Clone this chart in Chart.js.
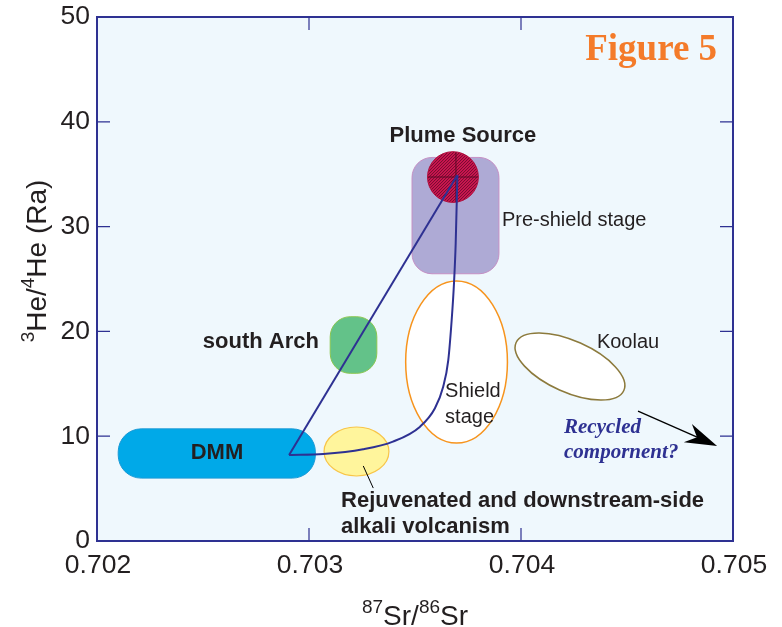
<!DOCTYPE html>
<html>
<head>
<meta charset="utf-8">
<script src="https://cdn.jsdelivr.net/npm/chart.js@4"></script>
<style>
  body { margin: 0; background: #fff; }
  #wrap { width: 782px; height: 627px; }
</style>
</head>
<body>
<div id="wrap"><canvas id="fig5"></canvas></div>
<script>
// Axis ticks
const xTicks = [0.702, 0.703, 0.704, 0.705];
const yTicks = [0, 10, 20, 30, 40, 50];

// Mixing curve DMM -> plume
const curveSr = [0.702906, 0.703067, 0.703255, 0.703396, 0.703524, 0.703594, 0.703633, 0.703657, 0.703673, 0.703684, 0.703692, 0.703700];
const curveHe = [8.21, 8.30, 8.75, 9.48, 10.91, 12.66, 14.72, 17.27, 21.09, 24.62, 28.44, 34.92];

// Straight mixing line DMM -> plume
const lineSr = [0.702906, 0.703700];
const lineHe = [8.21, 34.92];

// Fields: boxes [srMin, srMax, heMin, heMax]
const dmmBox = [0.7021, 0.70303, 6.0, 10.7];
const southArchBox = [0.7031, 0.70332, 16.0, 21.4];
const preShieldBox = [0.703486, 0.703896, 25.5, 36.6];

// Fields: ellipses [srCenter, heCenter, srRadius, heRadius]
const plumeEllipse = [0.703679, 34.73, 0.00012, 2.42];
const shieldEllipse = [0.703696, 17.08, 0.00024, 7.73];
const rejuvEllipse = [0.703224, 8.54, 0.000153, 2.34];

// Koolau: long axis ends [sr1, he1, sr2, he2] and half width in He units
const koolauAxis = [0.703977, 18.94, 0.704485, 14.36];
const koolauHalf = 2.45;

// Arrow and leader line [sr1, he1, sr2, he2]
const recycledArrow = [0.704552, 12.4, 0.704925, 9.06];
const rejuvLeader = [0.703256, 7.16, 0.703303, 5.05];

// Labels
const labelText = ["Plume Source", "Pre-shield stage", "south Arch", "Koolau", "Shield", "stage", "DMM",
  "Recycled", "compornent?", "Rejuvenated and downstream-side", "alkali volcanism", "Figure 5"];
const labelSr = [0.703726, 0.70391, 0.703047, 0.704358, 0.703642, 0.703642, 0.702566,
  0.704203, 0.704203, 0.703151, 0.703151, 0.704925];
const labelHe = [38.65, 30.63, 19.04, 18.99, 14.31, 11.83, 8.40, 10.78, 8.40, 3.82, 1.34, 46.85];

const NAVY = "#2e3192";
const INK = "#231f20";
const SANS = '"Liberation Sans", Arial, sans-serif';
const SERIF = '"Liberation Serif", "Times New Roman", serif';

const labelStyle = [
  { font: "bold 22px " + SANS, color: INK, align: "center" },
  { font: "20px " + SANS, color: INK, align: "left" },
  { font: "bold 22px " + SANS, color: INK, align: "right" },
  { font: "20px " + SANS, color: INK, align: "left" },
  { font: "20px " + SANS, color: INK, align: "left" },
  { font: "20px " + SANS, color: INK, align: "left" },
  { font: "bold 22px " + SANS, color: INK, align: "center" },
  { font: "italic bold 21px " + SERIF, color: NAVY, align: "left" },
  { font: "italic bold 21px " + SERIF, color: NAVY, align: "left" },
  { font: "bold 22px " + SANS, color: INK, align: "left" },
  { font: "bold 22px " + SANS, color: INK, align: "left" },
  { font: "bold 37px " + SERIF, color: "#f47b2a", align: "right" }
];

function roundBox(ctx, x0, y0, x1, y1, r) {
  ctx.beginPath();
  ctx.moveTo(x0 + r, y0);
  ctx.lineTo(x1 - r, y0);
  ctx.arcTo(x1, y0, x1, y0 + r, r);
  ctx.lineTo(x1, y1 - r);
  ctx.arcTo(x1, y1, x1 - r, y1, r);
  ctx.lineTo(x0 + r, y1);
  ctx.arcTo(x0, y1, x0, y1 - r, r);
  ctx.lineTo(x0, y0 + r);
  ctx.arcTo(x0, y0, x0 + r, y0, r);
  ctx.closePath();
}

const fieldsPlugin = {
  id: "fields",
  beforeDraw(chart) {
    const { ctx, chartArea: a } = chart;
    ctx.save();
    ctx.fillStyle = "#eff8fd";
    ctx.fillRect(a.left, a.top, a.right - a.left, a.bottom - a.top);
    ctx.restore();
  },
  beforeDatasetsDraw(chart) {
    const ctx = chart.ctx;
    const sx = chart.scales.x, sy = chart.scales.y;
    const px = v => sx.getPixelForValue(v);
    const py = v => sy.getPixelForValue(v);

    const box = (b, r, fill, stroke) => {
      roundBox(ctx, px(b[0]), py(b[3]), px(b[1]), py(b[2]), r);
      ctx.fillStyle = fill; ctx.fill();
      ctx.strokeStyle = stroke; ctx.lineWidth = 1; ctx.stroke();
    };
    const ell = (e, fill, stroke, lw) => {
      ctx.beginPath();
      ctx.ellipse(px(e[0]), py(e[1]), Math.abs(px(e[0] + e[2]) - px(e[0])),
        Math.abs(py(e[1] + e[3]) - py(e[1])), 0, 0, Math.PI * 2);
      ctx.fillStyle = fill; ctx.fill();
      ctx.strokeStyle = stroke; ctx.lineWidth = lw; ctx.stroke();
    };

    ctx.save();
    box(dmmBox, 23, "#00a9e8", "#1a9ad6");
    box(southArchBox, 20, "#63c289", "#8cc751");
    box(preShieldBox, 20, "#aeaad5", "#c58fc4");
    ell(rejuvEllipse, "#fff59c", "#f8c548", 1.2);
    ell(shieldEllipse, "#ffffff", "#f7941d", 1.5);

    // Koolau tilted ellipse
    const kx1 = px(koolauAxis[0]), ky1 = py(koolauAxis[1]);
    const kx2 = px(koolauAxis[2]), ky2 = py(koolauAxis[3]);
    const kr = Math.hypot(kx2 - kx1, ky2 - ky1) / 2;
    const kb = Math.abs(py(0) - py(koolauHalf));
    ctx.beginPath();
    ctx.ellipse((kx1 + kx2) / 2, (ky1 + ky2) / 2, kr, kb, Math.atan2(ky2 - ky1, kx2 - kx1), 0, Math.PI * 2);
    ctx.fillStyle = "#ffffff"; ctx.fill();
    ctx.strokeStyle = "#8c7a3c"; ctx.lineWidth = 1.5; ctx.stroke();

    // Plume source: hatched red disc with cross
    const cx = px(plumeEllipse[0]), cy = py(plumeEllipse[1]);
    const rx = Math.abs(px(plumeEllipse[0] + plumeEllipse[2]) - cx);
    const ry = Math.abs(py(plumeEllipse[1] + plumeEllipse[3]) - cy);
    ctx.beginPath();
    ctx.ellipse(cx, cy, rx, ry, 0, 0, Math.PI * 2);
    ctx.fillStyle = "#cc1650"; ctx.fill();
    ctx.save();
    ctx.clip();
    ctx.strokeStyle = "#5c0a27"; ctx.lineWidth = 0.8;
    for (let k = -2 * rx; k < 2 * rx; k += 3) {
      ctx.beginPath();
      ctx.moveTo(cx + k - ry, cy + ry);
      ctx.lineTo(cx + k + ry, cy - ry);
      ctx.stroke();
    }
    ctx.lineWidth = 1;
    ctx.beginPath();
    ctx.moveTo(cx - rx, cy); ctx.lineTo(cx + rx, cy);
    ctx.moveTo(cx + 3, cy - ry); ctx.lineTo(cx + 3, cy + ry);
    ctx.stroke();
    ctx.restore();
    ctx.beginPath();
    ctx.ellipse(cx, cy, rx, ry, 0, 0, Math.PI * 2);
    ctx.strokeStyle = "#b0123f"; ctx.lineWidth = 1; ctx.stroke();
    ctx.restore();
  },
  afterDatasetsDraw(chart) {
    const { ctx, chartArea: a } = chart;
    const sx = chart.scales.x, sy = chart.scales.y;
    const px = v => sx.getPixelForValue(v);
    const py = v => sy.getPixelForValue(v);
    ctx.save();

    // leader line
    ctx.strokeStyle = "#000"; ctx.lineWidth = 1;
    ctx.beginPath();
    ctx.moveTo(px(rejuvLeader[0]), py(rejuvLeader[1]));
    ctx.lineTo(px(rejuvLeader[2]), py(rejuvLeader[3]));
    ctx.stroke();

    // arrow
    const ax1 = px(recycledArrow[0]), ay1 = py(recycledArrow[1]);
    const ax2 = px(recycledArrow[2]), ay2 = py(recycledArrow[3]);
    const ang = Math.atan2(ay2 - ay1, ax2 - ax1);
    ctx.beginPath();
    ctx.moveTo(ax1, ay1);
    ctx.lineTo(ax2 - 20 * Math.cos(ang), ay2 - 20 * Math.sin(ang));
    ctx.lineWidth = 1.3; ctx.stroke();
    ctx.save();
    ctx.translate(ax2, ay2); ctx.rotate(ang);
    ctx.beginPath();
    ctx.moveTo(0, 0);
    ctx.lineTo(-32, -10);
    ctx.lineTo(-22, 0);
    ctx.lineTo(-32, 10);
    ctx.closePath();
    ctx.fillStyle = "#000"; ctx.fill();
    ctx.restore();

    // text labels
    ctx.textBaseline = "middle";
    labelText.forEach((t, i) => {
      const s = labelStyle[i];
      ctx.font = s.font; ctx.fillStyle = s.color; ctx.textAlign = s.align;
      ctx.fillText(t, px(labelSr[i]), py(labelHe[i]));
    });

    // frame and inward ticks
    ctx.strokeStyle = NAVY; ctx.lineWidth = 2;
    ctx.strokeRect(a.left, a.top, a.right - a.left, a.bottom - a.top);
    ctx.lineWidth = 1.2;
    ctx.beginPath();
    yTicks.slice(1, -1).forEach(v => {
      const y = py(v);
      ctx.moveTo(a.left, y); ctx.lineTo(a.left + 13, y);
      ctx.moveTo(a.right, y); ctx.lineTo(a.right - 13, y);
    });
    xTicks.slice(1, -1).forEach(v => {
      const x = px(v);
      ctx.moveTo(x, a.top); ctx.lineTo(x, a.top + 13);
      ctx.moveTo(x, a.bottom); ctx.lineTo(x, a.bottom - 13);
    });
    ctx.stroke();

    // axis titles with superscripts
    const parts = (list, x0, y0) => {
      let x = x0;
      list.forEach(([t, sup]) => {
        ctx.font = (sup ? "19px " : "28px ") + SANS;
        ctx.fillText(t, x, y0 - (sup ? 12 : 0));
        x += ctx.measureText(t).width;
      });
    };
    const width = list => list.reduce((w, [t, sup]) => {
      ctx.font = (sup ? "19px " : "28px ") + SANS;
      return w + ctx.measureText(t).width;
    }, 0);
    ctx.fillStyle = INK; ctx.textAlign = "left"; ctx.textBaseline = "alphabetic";
    const xt = [["87", true], ["Sr/", false], ["86", true], ["Sr", false]];
    parts(xt, (a.left + a.right) / 2 - width(xt) / 2, 625);
    const yt = [["3", true], ["He/", false], ["4", true], ["He (Ra)", false]];
    ctx.translate(46, 261);
    ctx.rotate(-Math.PI / 2);
    parts(yt, -width(yt) / 2, 0);
    ctx.restore();
  }
};

new Chart(document.getElementById("fig5"), {
  type: "scatter",
  data: {
    datasets: [
      {
        data: curveSr.map((v, i) => ({ x: v, y: curveHe[i] })),
        showLine: true, borderColor: NAVY, borderWidth: 2,
        pointRadius: 0, cubicInterpolationMode: "monotone"
      },
      {
        data: lineSr.map((v, i) => ({ x: v, y: lineHe[i] })),
        showLine: true, borderColor: NAVY, borderWidth: 2, pointRadius: 0
      }
    ]
  },
  options: {
    responsive: true,
    maintainAspectRatio: false,
    animation: false,
    layout: { padding: { left: 0, top: 17, right: 49, bottom: 0 } },
    plugins: { legend: { display: false }, tooltip: { enabled: false } },
    scales: {
      x: {
        type: "linear", min: 0.702, max: 0.705,
        afterBuildTicks: s => { s.ticks = xTicks.map(v => ({ value: v })); },
        afterFit: s => { s.height = 86; s.paddingLeft = 0; s.paddingRight = 0; },
        grid: { display: false, drawTicks: false }, border: { display: false },
        ticks: {
          font: { family: SANS, size: 26.5 }, color: INK, padding: 9, labelOffset: 1,
          maxRotation: 0, callback: v => v.toFixed(3)
        }
      },
      y: {
        type: "linear", min: 0, max: 50,
        afterBuildTicks: s => { s.ticks = yTicks.map(v => ({ value: v })); },
        afterFit: s => { s.width = 97; s.paddingTop = 0; s.paddingBottom = 0; },
        grid: { display: false, drawTicks: false }, border: { display: false },
        ticks: { font: { family: SANS, size: 26.5 }, color: INK, padding: 7 }
      }
    }
  },
  plugins: [fieldsPlugin]
});
</script>
</body>
</html>
